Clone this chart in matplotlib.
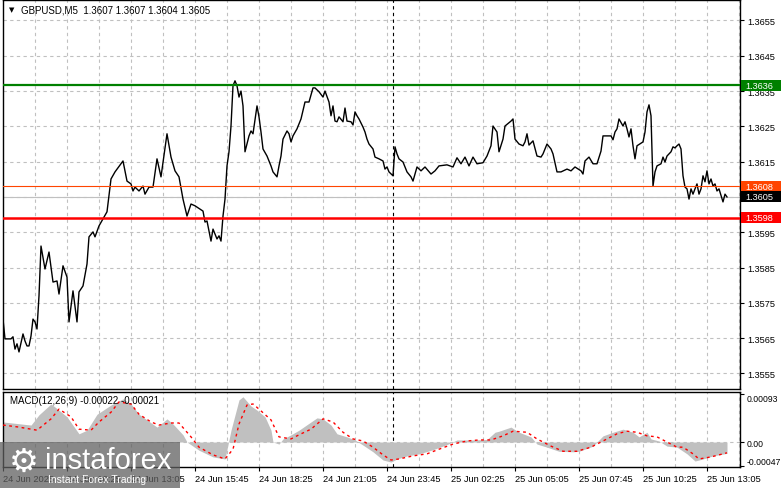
import numpy as np
import matplotlib.pyplot as plt
from matplotlib.patches import Rectangle

# ---- data (bar index = M5 bar from 24 Jun 07:45) ----
price_bars = [0, 1, 4, 5, 6, 7, 8, 10, 11, 12, 13, 14, 15, 16, 17, 18, 19, 21, 23, 25,
              27, 28, 30, 32, 33, 35, 37, 38, 40, 42, 43, 45, 46, 48, 50, 52, 54, 56, 59, 60,
              62, 64, 65, 66, 68, 70, 71, 73, 75, 77, 79, 82, 84, 86, 88, 90, 92, 94, 96, 100,
              101, 102, 104, 105, 107, 108, 109, 110, 111, 112, 113, 114, 115, 116, 117, 118, 119, 120, 121, 123,
              124, 125, 127, 128, 129, 130, 132, 134, 135, 137, 138, 139, 140, 142, 143, 144, 145, 147, 149, 151,
              153, 155, 156, 158, 160, 161, 163, 164, 165, 166, 167, 168, 170, 171, 172, 174, 175, 176, 177, 178,
              180, 181, 182, 183, 185, 186, 188, 190, 191, 192, 193, 195, 196, 197, 198, 200, 202, 204, 205, 207,
              209, 211, 214, 216, 218, 222, 225, 227, 229, 231, 233, 235, 237, 240, 242, 244, 245, 247, 248, 250,
              251, 254, 255, 256, 258, 260, 261, 262, 263, 265, 267, 269, 270, 272, 274, 275, 277, 279, 282, 284,
              286, 289, 290, 291, 293, 295, 297, 299, 300, 304, 305, 306, 307, 308, 310, 311, 312, 313, 314, 315,
              316, 317, 320, 321, 322, 323, 324, 325, 326, 327, 329, 330, 331, 332, 334, 335, 336, 337, 338, 339,
              340, 341, 342, 343, 344, 345, 346, 347, 348, 349, 350, 351, 352, 353, 354, 355, 356, 357, 358, 360,
              361, 362]
close = [1.35704, 1.35648, 1.35648, 1.35654, 1.35619, 1.35634, 1.35611, 1.35662, 1.35642, 1.35628,
         1.35628, 1.35656, 1.35704, 1.35696, 1.35676, 1.35770, 1.35911, 1.35846, 1.35894, 1.35809,
         1.35812, 1.35775, 1.35855, 1.35823, 1.35696, 1.35784, 1.35696, 1.35781, 1.35798, 1.35860,
         1.35937, 1.35951, 1.35937, 1.35968, 1.35988, 1.36008, 1.36101, 1.36121, 1.36144, 1.36152,
         1.36095, 1.36087, 1.36067, 1.36078, 1.36067, 1.36081, 1.36058, 1.36078, 1.36078, 1.36158,
         1.36107, 1.36229, 1.36163, 1.36124, 1.36107, 1.36044, 1.35996, 1.36030, 1.36025, 1.36010,
         1.35979, 1.35982, 1.35925, 1.35959, 1.35931, 1.35940, 1.35925, 1.35996, 1.36044, 1.36138,
         1.36178, 1.36251, 1.36365, 1.36379, 1.36365, 1.36333, 1.36350, 1.36308, 1.36178, 1.36223,
         1.36237, 1.36229, 1.36308, 1.36277, 1.36234, 1.36186, 1.36166, 1.36138, 1.36121, 1.36107,
         1.36138, 1.36166, 1.36214, 1.36237, 1.36229, 1.36206, 1.36223, 1.36243, 1.36271, 1.36319,
         1.36319, 1.36359, 1.36359, 1.36348, 1.36333, 1.36350, 1.36319, 1.36280, 1.36308, 1.36265,
         1.36263, 1.36277, 1.36263, 1.36302, 1.36265, 1.36263, 1.36254, 1.36291, 1.36280, 1.36271,
         1.36248, 1.36234, 1.36214, 1.36200, 1.36186, 1.36163, 1.36158, 1.36152, 1.36129, 1.36135,
         1.36121, 1.36110, 1.36192, 1.36172, 1.36158, 1.36149, 1.36121, 1.36107, 1.36095, 1.36135,
         1.36124, 1.36135, 1.36115, 1.36124, 1.36138, 1.36141, 1.36135, 1.36161, 1.36144, 1.36163,
         1.36138, 1.36163, 1.36144, 1.36147, 1.36166, 1.36195, 1.36251, 1.36234, 1.36178, 1.36214,
         1.36251, 1.36265, 1.36271, 1.36214, 1.36200, 1.36195, 1.36206, 1.36229, 1.36197, 1.36209,
         1.36166, 1.36163, 1.36172, 1.36200, 1.36186, 1.36172, 1.36121, 1.36121, 1.36129, 1.36124,
         1.36135, 1.36124, 1.36115, 1.36152, 1.36163, 1.36144, 1.36144, 1.36180, 1.36223, 1.36223,
         1.36212, 1.36234, 1.36243, 1.36271, 1.36251, 1.36263, 1.36243, 1.36220, 1.36243, 1.36195,
         1.36158, 1.36195, 1.36206, 1.36234, 1.36291, 1.36311, 1.36280, 1.36081, 1.36121, 1.36138,
         1.36144, 1.36163, 1.36149, 1.36166, 1.36178, 1.36192, 1.36189, 1.36195, 1.36200, 1.36186,
         1.36110, 1.36078, 1.36073, 1.36044, 1.36073, 1.36058, 1.36073, 1.36087, 1.36058, 1.36073,
         1.36110, 1.36093, 1.36124, 1.36087, 1.36101, 1.36081, 1.36087, 1.36067, 1.36073, 1.36036,
         1.36058, 1.36050]

hist_bars = [0, 14, 18, 24, 28, 32, 38, 42, 47, 54, 60, 64, 68, 72, 77, 82, 85, 90, 92, 98,
             105, 111, 114, 118, 120, 124, 127, 131, 134, 135, 138, 140, 144, 148, 154, 157, 160, 164, 167, 172,
             176, 180, 185, 190, 194, 197, 202, 208, 215, 222, 227, 235, 242, 246, 248, 254, 258, 264, 267, 272,
             278, 285, 288, 295, 300, 305, 310, 315, 318, 322, 324, 328, 332, 337, 342, 346, 350, 355, 362]
macd_hist = [0.00039, 0.00033, 0.00053, 0.00074, 0.00062, 0.00049, 0.00016, 0.00023, 0.00054, 0.00072,
             0.00084, 0.00074, 0.00054, 0.00043, 0.00029, 0.00045, 0.00035, 0.00014, 0.0, -0.00016,
             -0.00029, -0.00033, 0.00023, 0.00082, 0.00088, 0.00070, 0.00062, 0.00049, 0.00023, 0.0,
             -0.00004, 0.00006, 0.00014, 0.00023, 0.00039, 0.00047, 0.00045, 0.00033, 0.00016, 0.00010,
             0.00004, -0.00006, -0.00019, -0.00035, -0.00039, -0.00033, -0.00027, -0.00023, -0.00015, -0.00005,
             0.00004, 0.00004, 0.00005, 0.00019, 0.00021, 0.00029, 0.00019, 0.00010, -0.00004, -0.00010,
             -0.00018, -0.00019, -0.00018, -0.00008, 0.00012, 0.00019, 0.00025, 0.00019, 0.00010, 0.00019,
             0.00006, 0.00002, -0.00008, -0.00010, -0.00023, -0.00037, -0.00033, -0.00027, -0.00022]

signal_bars = [0, 8, 17, 24, 28, 34, 38, 44, 48, 54, 58, 64, 68, 74, 78, 84, 88, 94, 98, 105,
               111, 115, 118, 122, 125, 128, 134, 138, 144, 148, 154, 160, 165, 170, 175, 180, 185, 190, 194, 198,
               205, 212, 218, 225, 232, 238, 244, 250, 255, 262, 267, 274, 280, 287, 294, 300, 307, 312, 317, 322,
               327, 332, 337, 340, 345, 348, 354, 362]
macd_signal = [0.00033, 0.00029, 0.00023, 0.00045, 0.00064, 0.00049, 0.00025, 0.00023, 0.00039, 0.00058,
               0.00078, 0.00074, 0.00054, 0.00039, 0.00033, 0.00037, 0.00037, 0.00010, -0.00010, -0.00025,
               -0.00033, -0.00014, 0.00035, 0.00072, 0.00074, 0.00064, 0.00043, 0.00010, 0.00006, 0.00014,
               0.00025, 0.00045, 0.00039, 0.00019, 0.00006, 0.00002, -0.00010, -0.00025, -0.00035, -0.00033,
               -0.00027, -0.00023, -0.00014, -0.00004, 0.00002, 0.00004, 0.00004, 0.00012, 0.00021, 0.00019,
               0.00006, -0.00008, -0.00018, -0.00018, -0.00010, 0.00002, 0.00016, 0.00021, 0.00019, 0.00012,
               0.00010, 0.0, -0.00010, -0.00010, -0.00023, -0.00033, -0.00029, -0.00021]

price_ticks = [1.3555, 1.3565, 1.3575, 1.3585, 1.3595, 1.3605, 1.3615, 1.3625, 1.3635, 1.3645, 1.3655]
time_labels = ["24 Jun 2025", "24 Jun 10:25", "24 Jun 13:05", "24 Jun 15:45", "24 Jun 18:25",
               "24 Jun 21:05", "24 Jun 23:45", "25 Jun 02:25", "25 Jun 05:05", "25 Jun 07:45",
               "25 Jun 10:25", "25 Jun 13:05"]
time_label_bars = [0, 32, 64, 96, 128, 160, 192, 224, 256, 288, 320, 352]
separator_bar = 195

# level lines: (price, label, colour, width)
levels = [(1.36366, "1.3636", "#008000", 1.6),
          (1.36081, "1.3608", "#ff4500", 0.8),
          (1.35991, "1.3598", "#ff0000", 1.8)]
last_price = 1.3605
macd_text = "MACD(12,26,9) -0.00022 -0.00021"
title_text = "GBPUSD,M5  1.3607 1.3607 1.3604 1.3605"

# ---- layout ----
W, H = 781, 489
plt.rcParams['font.family'] = ['Liberation Sans', 'DejaVu Sans']
fig = plt.figure(figsize=(W / 100, H / 100), dpi=100)
fig.patch.set_facecolor("white")

ax = fig.add_axes([3 / W, 1 - 390 / H, 737 / W, 389 / H])
axm = fig.add_axes([3 / W, 1 - 468 / H, 737 / W, 75 / H])

XMAX = 368.5
grid_kw = dict(color="#c0c0c0", lw=0.8, linestyle=(0, (3, 3)), zorder=0)

for a in (ax, axm):
    a.set_xlim(0, XMAX)
    for gx in np.arange(16, XMAX, 16):
        a.axvline(gx, **grid_kw)
    a.axvline(separator_bar, color="black", lw=0.8, linestyle=(0, (3, 3)), zorder=1)
    for s in a.spines.values():
        s.set_color("black")
        s.set_linewidth(1.0)
    a.yaxis.tick_right()
    a.tick_params(axis="y", direction="out", length=3, width=0.8, pad=2, labelsize=6.6)

# main price panel (the last-price tick label sits under its black box)
ax.set_ylim(1.35506, 1.36608)
ax.set_yticks(price_ticks)
ax.set_yticklabels(["" if t == last_price else f"{t:.4f}" for t in price_ticks])
for t in price_ticks:
    ax.axhline(t, **grid_kw)
ax.set_xticks([])
ax.axhline(last_price, color="#c0c0c0", lw=0.8, zorder=1)

ax.plot(price_bars, close, color="black", lw=1.0, zorder=3)
for val, lab, col, lw in levels:
    ax.axhline(val, color=col, lw=lw, zorder=4)

ax.text(6 / 737, 1 - 9 / 389, "\u25bc", transform=ax.transAxes, fontsize=5,
        va="center", ha="left", family=["DejaVu Sans"])
ax.text(18 / 737, 1 - 9.5 / 389, title_text, transform=ax.transAxes, fontsize=7,
        va="center", ha="left")

# price boxes on the right scale
boxes = [(v, lab, col) for v, lab, col, _ in levels] + [(last_price, "1.3605", "black")]
for val, lab, col in boxes:
    yf = ax.transData.transform((0, val))[1] / H
    fig.patches.append(Rectangle((741 / W, yf - 5.5 / H), 40 / W, 11 / H,
                                 transform=fig.transFigure, facecolor=col,
                                 edgecolor="none", zorder=5))
    fig.text(745 / W, yf, lab, color="white", fontsize=6.6,
             va="center", ha="left", zorder=6)

# MACD panel
axm.set_ylim(-0.000486, 0.000973)
axm.axhline(0, **grid_kw)
axm.fill_between(hist_bars, 0, macd_hist, color="#c0c0c0", lw=0, zorder=2)
axm.plot(signal_bars, macd_signal, color="red", lw=1.0, linestyle=(0, (2, 2.5)), zorder=3)
axm.set_yticks([0.00093, 0.0, -0.00047])
axm.set_yticklabels(["0.00093", "0.00", "-0.00047"])
axm.tick_params(axis="y", pad=1.5, labelsize=6.2)
ylabs = axm.get_yticklabels()
ylabs[0].set_va("top")
ylabs[2].set_va("bottom")
axm.set_xticks(time_label_bars)
axm.set_xticklabels(time_labels, ha="left")
axm.tick_params(axis="x", direction="out", length=3, width=0.8, pad=2, labelsize=6.7)
axm.text(7 / 737, 1 - 8 / 75, macd_text, transform=axm.transAxes, fontsize=7,
         va="center", ha="left")

# watermark logo
fig.patches.append(Rectangle((0, 0), 180 / W, 46 / H, transform=fig.transFigure,
                             facecolor="#606060", alpha=0.75, edgecolor="none", zorder=7))
fig.text(24 / W, 1 - 462 / H, "\u2699", color="white", fontsize=24, va="center",
         ha="center", family=["DejaVu Sans"], zorder=8)
fig.text(45 / W, 1 - 461 / H, "instaforex", color="white", fontsize=21,
         va="center", ha="left", zorder=8)
fig.text(48 / W, 1 - 480 / H, "Instant Forex Trading", color="white", fontsize=7.5,
         va="center", ha="left", zorder=8)

fig.savefig("out.png", dpi=100)
